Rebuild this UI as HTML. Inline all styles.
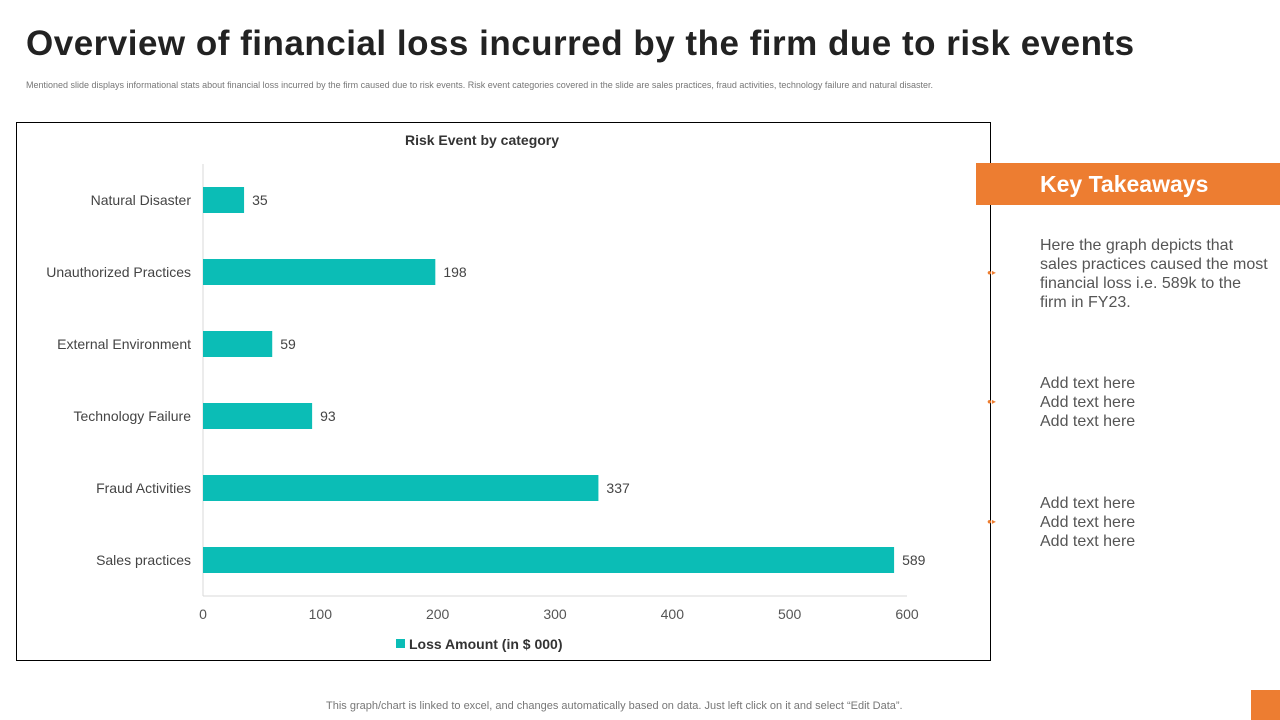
<!DOCTYPE html>
<html><head><meta charset="utf-8"><style>
body{margin:0;width:1280px;height:720px;background:#fff;position:relative;overflow:hidden;font-family:"Liberation Sans",sans-serif}
.abs{position:absolute}
</style></head><body>
<div class="abs" style="left:26px;top:24px;font-size:35px;font-weight:bold;color:#222;letter-spacing:0.5px">Overview of financial loss incurred by the firm due to risk events</div>
<div class="abs" style="left:26px;top:80px;font-size:9px;color:#777">Mentioned slide displays informational stats about financial loss incurred by the firm caused due to risk events. Risk event categories covered in the slide are sales practices, fraud activities, technology failure and natural disaster.</div>
<div class="abs" style="left:16px;top:122px;width:973px;height:537px;border:1px solid #000"></div>
<svg class="abs" style="left:0;top:0" width="1280" height="720" id="chart"></svg>
<div class="abs" style="left:976px;top:163px;width:304px;height:42px;background:#ED7D31;color:#fff;font-size:23px;font-weight:bold;line-height:42px;box-sizing:border-box;padding-left:64px">Key Takeaways</div>
<div class="abs" style="left:1040px;top:236px;font-size:16px;line-height:19px;color:#555;width:230px">Here the graph depicts that sales practices caused the most financial loss i.e. 589k to the firm in FY23.</div>
<div class="abs" style="left:1040px;top:374px;font-size:16px;line-height:19px;color:#555">Add text here<br>Add text here<br>Add text here</div>
<div class="abs" style="left:1040px;top:494px;font-size:16px;line-height:19px;color:#555">Add text here<br>Add text here<br>Add text here</div>
<div class="abs" style="left:987px;top:268px;font-size:8px;color:#ED7D31">●▸</div>
<div class="abs" style="left:987px;top:397px;font-size:8px;color:#ED7D31">●▸</div>
<div class="abs" style="left:987px;top:517px;font-size:8px;color:#ED7D31">●▸</div>
<div class="abs" style="left:326px;top:700px;font-size:11px;color:#777">This graph/chart is linked to excel, and changes automatically based on data. Just left click on it and select “Edit Data”.</div>
<div class="abs" style="left:1251px;top:690px;width:29px;height:30px;background:#ED7D31"></div>
<script>
const categories=["Natural Disaster","Unauthorized Practices","External Environment","Technology Failure","Fraud Activities","Sales practices"];
const values=[35,198,59,93,337,589];
const ticks=[0,100,200,300,400,500,600];
const NS="http://www.w3.org/2000/svg";
const svg=document.getElementById('chart');
const x0=203,x1=907,yTop=164,yBot=596;
const xs=v=>x0+(v/600)*(x1-x0);
const band=(yBot-yTop)/categories.length;
const yc=i=>yTop+band*(i+0.5);
function mk(t,a){const e=document.createElementNS(NS,t);for(const k in a)e.setAttribute(k,a[k]);svg.appendChild(e);return e;}
let t=mk('text',{x:482,y:145,'text-anchor':'middle','font-size':14,'font-weight':'bold',fill:'#333'});t.textContent='Risk Event by category';


let ax=mk('line',{x1:x0,y1:yTop,x2:x0,y2:yBot,stroke:'#d9d9d9'});


let bx=mk('line',{x1:x0,y1:yBot,x2:x1,y2:yBot,stroke:'#d9d9d9'});


ticks.forEach(v=>{const e=mk('text',{x:xs(v),y:619,'text-anchor':'middle','font-size':14,fill:'#555'});e.textContent=v;

});
categories.forEach((c,i)=>{
const y=yc(i);
const l=mk('text',{x:191,y:y+5,'text-anchor':'end','font-size':14,fill:'#444'});l.textContent=c;


const r=mk('rect',{x:x0,y:y-13,width:xs(values[i])-x0,height:26,fill:'#0BBDB6'});


const v=mk('text',{x:xs(values[i])+8,y:y+5,'font-size':14,fill:'#444'});v.textContent=values[i];


});
const lg=mk('rect',{x:396,y:639,width:9,height:9,fill:'#0BBDB6'});


const lt=mk('text',{x:409,y:649,'font-size':14,'font-weight':'bold',fill:'#333'});lt.textContent='Loss Amount (in $ 000)';


</script>
</body></html>
